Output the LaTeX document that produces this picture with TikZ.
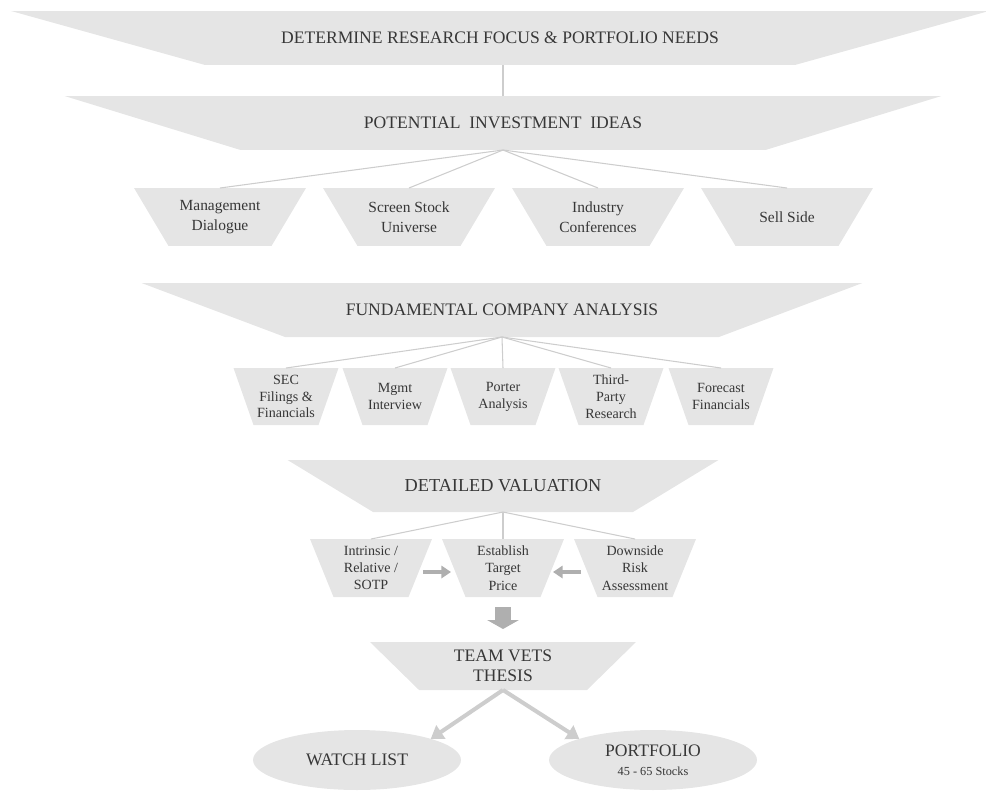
\documentclass[tikz,border=0pt]{standalone}
\usepackage{fontspec}
\setmainfont{Liberation Serif}
\usetikzlibrary{shapes.geometric, arrows.meta, backgrounds}

\definecolor{boxgray}{RGB}{229,229,229}
\definecolor{linegray}{RGB}{205,205,205}
\definecolor{arrowgray}{RGB}{175,175,175}
\definecolor{textgray}{RGB}{55,55,55}

\tikzset{
  funnel/.style={rectangle, inner sep=0pt, outer sep=0pt, text=textgray, align=center},
  bandfocus/.style={funnel, minimum width=19.56cm, minimum height=1.08cm,
    font=\fontsize{10}{11}\selectfont},
  bandideas/.style={funnel, minimum width=17.54cm, minimum height=1.08cm,
    font=\fontsize{10}{11}\selectfont},
  ideabox/.style={funnel, minimum width=3.44cm, minimum height=1.16cm,
    font=\fontsize{8.8}{11.3}\selectfont},
  bandanalysis/.style={funnel, minimum width=14.42cm, minimum height=1.08cm,
    font=\fontsize{10}{11}\selectfont},
  analysisbox/.style={funnel, minimum width=2.1cm, minimum height=1.14cm,
    font=\fontsize{8}{9.6}\selectfont},
  bandvaluation/.style={funnel, minimum width=8.62cm, minimum height=1.04cm,
    font=\fontsize{10.4}{11}\selectfont},
  valuebox/.style={funnel, minimum width=2.44cm, minimum height=1.16cm,
    font=\fontsize{8}{9.9}\selectfont},
  bandthesis/.style={funnel, minimum width=5.32cm, minimum height=0.96cm,
    font=\fontsize{10}{11.3}\selectfont},
  outcome/.style={ellipse, fill=boxgray, inner sep=0pt, outer sep=0pt,
    minimum width=4.16cm, minimum height=1.2cm, text=textgray, align=center,
    font=\fontsize{10}{11}\selectfont},
  linkline/.style={draw=linegray, line width=0.6pt},
  sidearrow/.style={draw=arrowgray, line width=2.8pt,
    -{Triangle[length=5.5pt,width=7pt]}},
  downarrow/.style={draw=arrowgray, line width=9pt,
    -{Triangle[length=5pt,width=17.5pt]}},
  splitarrow/.style={draw=linegray, line width=2.3pt,
    -{Triangle[length=7pt,width=9pt]}}
}

\begin{document}
\begin{tikzpicture}[x=0.02cm, y=-0.02cm]
  \useasboundingbox (0,0) rectangle (986,791);

  % Research focus
  \node[bandfocus] (focus) at (500, 38) {DETERMINE RESEARCH FOCUS \& PORTFOLIO NEEDS};

  % Idea generation
  \node[bandideas] (ideas) at (503, 123) {POTENTIAL\enspace INVESTMENT\enspace IDEAS};
  \node[ideabox] (mgmt)     at (220, 217) {Management\\Dialogue};
  \node[ideabox] (screen)   at (409, 217) {Screen Stock\\Universe};
  \node[ideabox] (industry) at (598, 217) {Industry\\Conferences};
  \node[ideabox] (sellside) at (787, 217) {Sell Side};

  \draw[linkline] (ideas.north) -- (ideas.north |- focus.south);
  \draw[linkline] (ideas.south) -- (mgmt.north);
  \draw[linkline] (ideas.south) -- (screen.north);
  \draw[linkline] (ideas.south) -- (industry.north);
  \draw[linkline] (ideas.south) -- (sellside.north);

  % Company analysis
  \node[bandanalysis] (analysis) at (502, 310) {FUNDAMENTAL COMPANY ANALYSIS};
  \node[analysisbox] (sec)      at (286, 396.5) {SEC\\Filings \&\\Financials};
  \node[analysisbox] (meeting)  at (395, 396.5) {Mgmt\\Interview};
  \node[analysisbox] (porter)   at (503, 396.5) {Porter\\Analysis};
  \node[analysisbox] (research) at (611, 396.5) {Third-\\Party\\Research};
  \node[analysisbox] (forecast) at (721, 396.5) {Forecast\\Financials};

  \draw[linkline] (analysis.south) -- (sec.north);
  \draw[linkline] (analysis.south) -- (meeting.north);
  \draw[linkline] (analysis.south) -- (porter.north);
  \draw[linkline] (analysis.south) -- (research.north);
  \draw[linkline] (analysis.south) -- (forecast.north);

  % Valuation
  \node[bandvaluation] (valuation) at (503, 486) {DETAILED VALUATION};
  \node[valuebox] (intrinsic) at (371, 568) {Intrinsic /\\Relative /\\SOTP};
  \node[valuebox] (target)    at (503, 568) {Establish\\Target\\Price};
  \node[valuebox] (downside)  at (635, 568) {Downside\\Risk\\Assessment};

  \draw[linkline] (valuation.south) -- (intrinsic.north);
  \draw[linkline] (valuation.south) -- (target.north);
  \draw[linkline] (valuation.south) -- (downside.north);
  \draw[sidearrow]
    ([xshift=-0.18cm, yshift=-0.08cm]intrinsic.east) -- ([xshift=0.18cm, yshift=-0.08cm]target.west);
  \draw[sidearrow]
    ([xshift=0.14cm, yshift=-0.08cm]downside.west) -- ([xshift=-0.22cm, yshift=-0.08cm]target.east);

  % Team review and outcome
  \node[bandthesis] (thesis) at (503, 666) {TEAM VETS\\THESIS};
  \draw[downarrow, shorten <=0.2cm, shorten >=0.26cm] (target.south) -- (thesis.north);

  \node[outcome] (watch)     at (357, 760) {WATCH LIST};
  \node[outcome] (portfolio) at (653, 760) {PORTFOLIO\\{\fontsize{7}{8}\selectfont 45 - 65 Stocks}};

  \draw[splitarrow] (thesis.south) -- (watch.16);
  \draw[splitarrow] (thesis.south) -- (portfolio.164);

  % Funnel shapes behind the texts
  \begin{pgfonlayer}{background}
    \foreach \n/\d in {focus/3.88, ideas/3.52, mgmt/0.69, screen/0.69, industry/0.69,
        sellside/0.69, analysis/2.87, sec/0.4, meeting/0.4, porter/0.4, research/0.4,
        forecast/0.4, valuation/1.71, intrinsic/0.47, target/0.47, downside/0.47, thesis/0.98}
      \fill[boxgray] (\n.north west) -- (\n.north east)
        -- ([xshift=-\d cm]\n.south east) -- ([xshift=\d cm]\n.south west) -- cycle;
  \end{pgfonlayer}

\end{tikzpicture}
\end{document}
